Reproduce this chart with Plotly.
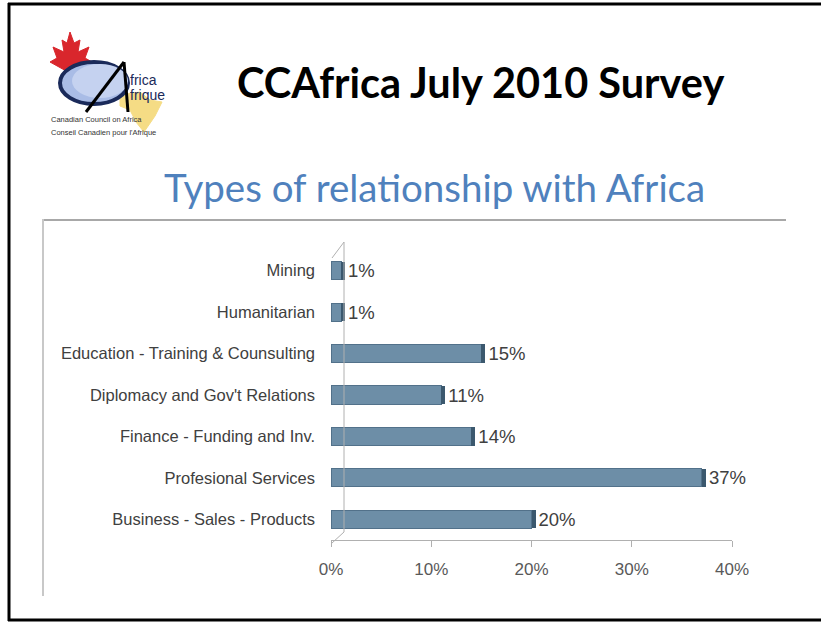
import plotly.graph_objects as go

categories = ["Business - Sales - Products", "Profesional Services", "Finance - Funding and Inv.",
              "Diplomacy and Gov't Relations", "Education - Training & Counsulting",
              "Humanitarian", "Mining"]
values = [20, 37, 14, 11, 15, 1, 1]
x_ticks = [0, 10, 20, 30, 40]
x_tick_labels = ["0%", "10%", "20%", "30%", "40%"]

W, H = 821, 622
L, R, T, B = 331, 732, 250, 540

def px(x):
    return (x - L) / (R - L)

def py(y):
    return (B - y) / (B - T)

fig = go.Figure()
fig.add_trace(go.Bar(
    y=categories, x=values, orientation="h", width=0.44,
    marker=dict(color="#6d8ea7", line=dict(color="#52718a", width=1)),
    hoverinfo="skip", showlegend=False,
))
fig.add_trace(go.Bar(
    y=categories, x=[0.4] * len(values), orientation="h", width=0.44,
    marker=dict(color="#3b586e", line=dict(width=0)),
    text=[f"{v}%" for v in values], textposition="outside", cliponaxis=False,
    constraintext="none",
    textfont=dict(family="Liberation Sans, Arial", size=18.5, color="#404040"),
    hoverinfo="skip", showlegend=False,
))

shapes = []
# slide border (black)
shapes.append(dict(type="line", xref="paper", yref="paper", x0=px(9), x1=px(9), y0=py(3), y1=py(621),
                   line=dict(color="black", width=3)))
shapes.append(dict(type="line", xref="paper", yref="paper", x0=px(8), x1=px(821), y0=py(4), y1=py(4),
                   line=dict(color="black", width=3)))
shapes.append(dict(type="line", xref="paper", yref="paper", x0=px(8), x1=px(821), y0=py(620), y1=py(620),
                   line=dict(color="black", width=3)))
# chart frame (gray)
shapes.append(dict(type="line", xref="paper", yref="paper", x0=px(42), x1=px(786), y0=py(220), y1=py(220),
                   line=dict(color="#a8a8a8", width=2)))
shapes.append(dict(type="line", xref="paper", yref="paper", x0=px(43), x1=px(43), y0=py(219), y1=py(596),
                   line=dict(color="#c8c8c8", width=2)))
# 3D back wall line
shapes.append(dict(type="line", xref="paper", yref="paper", x0=px(344), x1=px(344), y0=py(249), y1=py(532),
                   line=dict(color="#b0b0b0", width=1)))
shapes.append(dict(type="line", xref="paper", yref="paper", x0=px(332), x1=px(344), y0=py(258), y1=py(242),
                   line=dict(color="#b0b0b0", width=1)))
shapes.append(dict(type="line", xref="paper", yref="paper", x0=px(344), x1=px(344), y0=py(242), y1=py(249),
                   line=dict(color="#b0b0b0", width=1)))
shapes.append(dict(type="line", xref="paper", yref="paper", x0=px(332), x1=px(344), y0=py(543), y1=py(532),
                   line=dict(color="#b0b0b0", width=1)))

def poly(pts):
    return "M " + " L ".join(f"{px(x)} {py(y)}" for x, y in pts) + " Z"

# logo: maple leaf
leaf_pts = [(70, 32), (74, 43), (80, 40), (78, 52), (89, 47), (85, 58), (92, 62), (76, 72), (72, 72),
            (68, 72), (50, 62), (57, 58), (53, 47), (64, 52), (62, 40), (67, 43)]
shapes.append(dict(type="path", xref="paper", yref="paper", path=poly(leaf_pts),
                   fillcolor="#d9262c", line=dict(color="#d9262c", width=1)))
# Africa shape (yellow)
af_pts = [(120, 95), (140, 92), (150, 100), (162, 102), (155, 116), (144, 132), (136, 122), (130, 110), (120, 106)]
shapes.append(dict(type="path", xref="paper", yref="paper", path=poly(af_pts),
                   fillcolor="#f5dc85", line=dict(color="#f5dc85", width=1)))
# blue swoosh
shapes.append(dict(type="circle", xref="paper", yref="paper", x0=px(60), x1=px(128), y0=py(62), y1=py(104),
                   fillcolor="#a9bce6", line=dict(color="#1a2a5a", width=4)))
shapes.append(dict(type="circle", xref="paper", yref="paper", x0=px(72), x1=px(128), y0=py(64), y1=py(98),
                   fillcolor="#c5d2f0", line=dict(color="#c5d2f0", width=0)))
shapes.append(dict(type="line", xref="paper", yref="paper", x0=px(86), x1=px(124), y0=py(112), y1=py(62),
                   line=dict(color="black", width=3)))
shapes.append(dict(type="line", xref="paper", yref="paper", x0=px(124), x1=px(128), y0=py(62), y1=py(112),
                   line=dict(color="black", width=3)))

annotations = [
    dict(text="<b>CCAfrica July 2010 Survey</b>", x=px(480), y=py(82), xref="paper", yref="paper",
         showarrow=False, xanchor="center", yanchor="middle",
         font=dict(family="Lato, Open Sans", size=41.5, color="black")),
    dict(text="Types of relationship with Africa", x=px(434), y=py(187), xref="paper", yref="paper",
         showarrow=False, xanchor="center", yanchor="middle",
         font=dict(family="Lato, Open Sans", size=38.5, color="#4f81bd")),
    dict(text="frica", x=px(128), y=py(80), xref="paper", yref="paper", showarrow=False,
         xanchor="left", yanchor="middle", font=dict(family="Liberation Sans", size=14, color="#1a2a5a")),
    dict(text="frique", x=px(128), y=py(95), xref="paper", yref="paper", showarrow=False,
         xanchor="left", yanchor="middle", font=dict(family="Liberation Sans", size=14, color="#1a2a5a")),
    dict(text="Canadian Council on Africa", x=px(49), y=py(119), xref="paper", yref="paper", showarrow=False,
         xanchor="left", yanchor="middle", font=dict(family="Liberation Sans Narrow, Liberation Sans", size=7.5, color="#333")),
    dict(text="Conseil Canadien pour l'Afrique", x=px(49), y=py(132), xref="paper", yref="paper", showarrow=False,
         xanchor="left", yanchor="middle", font=dict(family="Liberation Sans Narrow, Liberation Sans", size=7.5, color="#333")),
]

fig.update_layout(
    width=W, height=H, barmode="stack",
    margin=dict(l=L, r=W - R, t=T, b=H - B, pad=0),
    paper_bgcolor="white", plot_bgcolor="white",
    shapes=shapes, annotations=annotations,
    xaxis=dict(range=[0, 40], tickvals=x_ticks, ticktext=x_tick_labels, showgrid=False, zeroline=False,
               showline=True, linecolor="#b0b0b0", linewidth=1, ticks="outside", ticklen=6,
               tickcolor="#b0b0b0", tickfont=dict(family="Liberation Sans, Arial", size=17, color="#595959"),
               ticklabelstandoff=8),
    yaxis=dict(showgrid=False, zeroline=False, showline=False, ticks="",
               tickfont=dict(family="Liberation Sans, Arial", size=16.5, color="#404040"),
               ticklabelstandoff=15),
    font=dict(family="Liberation Sans, Arial"),
)

fig.write_html("out.html")
